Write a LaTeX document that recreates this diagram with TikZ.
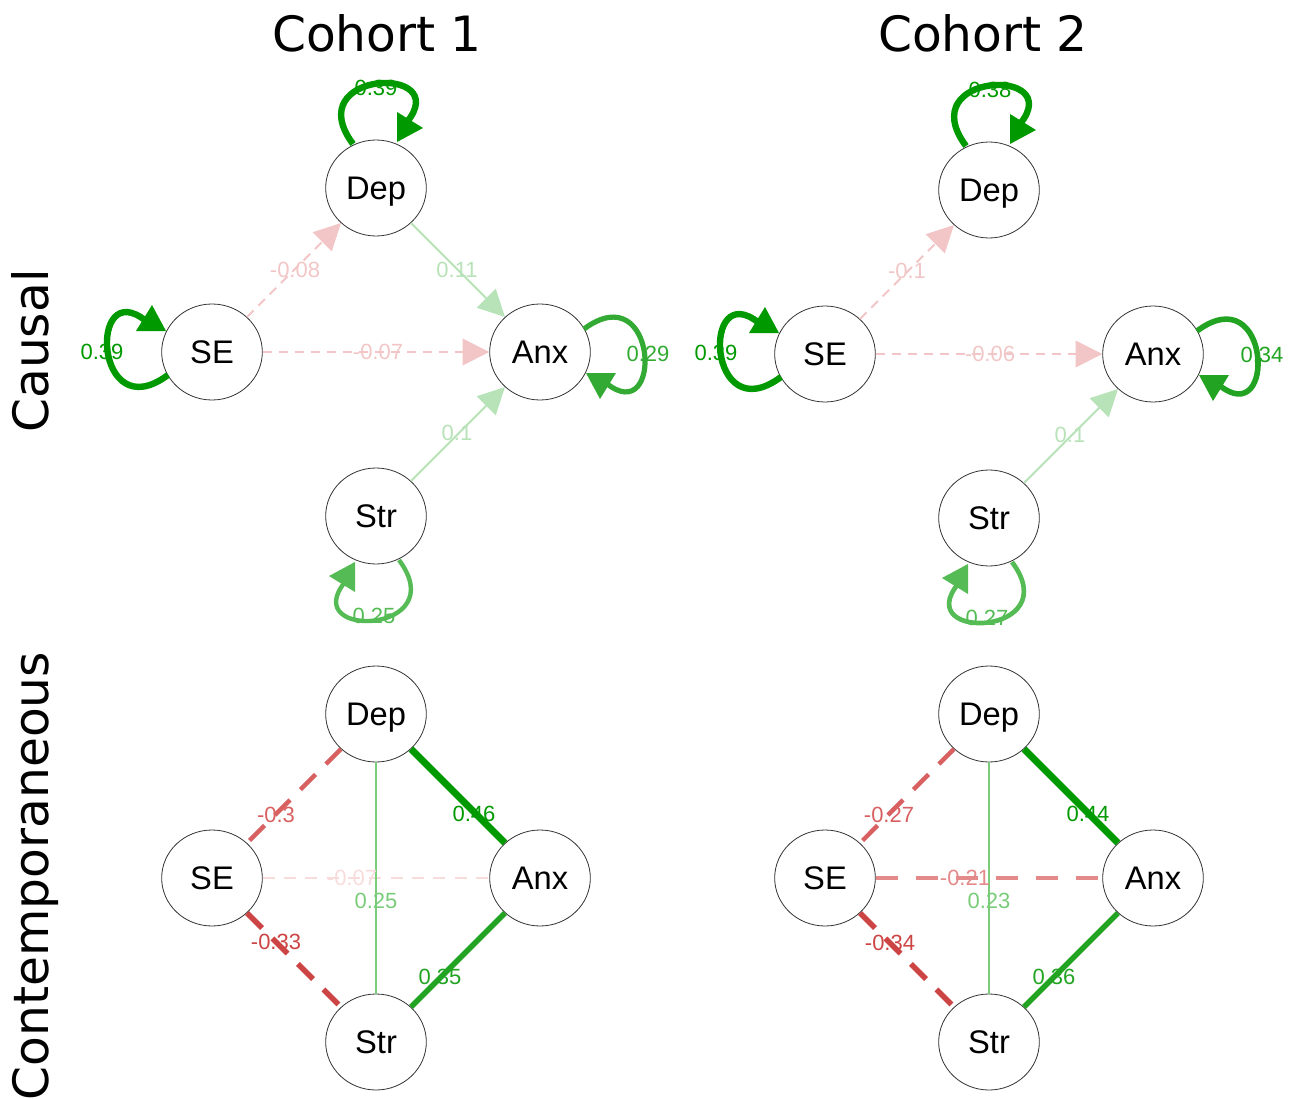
\documentclass[tikz,border=0pt]{standalone}
\usepackage{fontspec}
\setmainfont{Liberation Sans}
\newfontfamily\titlefont{DejaVu Sans}
\usetikzlibrary{arrows.meta,shapes.geometric}
\definecolor{gA}{HTML}{009900}
\definecolor{gB}{HTML}{22A322}
\definecolor{gC}{HTML}{33AA33}
\definecolor{gD}{HTML}{55BB55}
\definecolor{gE}{HTML}{7ACC7A}
\definecolor{gF}{HTML}{B8E2B8}
\definecolor{rA}{HTML}{CC4444}
\definecolor{rB}{HTML}{D86060}
\definecolor{rC}{HTML}{E48A8A}
\definecolor{rD}{HTML}{F2C6C6}
\definecolor{rE}{HTML}{F8DCDC}
\newcommand\qloop[4]{%
  \begin{scope}[shift={(#1)},rotate=#2]
    \draw[draw=#3,line width=#4] (-23,-44) .. controls (-78,-118) and (78,-124) .. (31,-66);
    \fill[#3] (21,-76) -- (21,-46) -- (47,-60) -- cycle;
  \end{scope}}
\begin{document}
\begin{tikzpicture}[x=0.75pt,y=-0.75pt,
  nd/.style={ellipse,draw=black!80,line width=0.6pt,fill=white,minimum width=75.5pt,minimum height=72pt,inner sep=0pt,font=\fontsize{24.5}{28}\selectfont,text height=17.5pt,text depth=0pt},
  lab/.style={font=\fontsize{16.5}{18}\selectfont,inner sep=0pt},
  hdr/.style={font=\titlefont\fontsize{36.5}{40}\selectfont,anchor=base,inner sep=0pt},
  arr/.style={-{Triangle[length=20pt,width=20pt]}},
  cdash/.style={line width=1.4pt,dash pattern=on 7pt off 5pt},
  csol/.style={line width=1.4pt}]
\useasboundingbox (0,0) rectangle (1293,1099);

% headers
\node[hdr] (h1) at (377,52) {Cohort 1};
\node[hdr] (h2) at (983,52) {Cohort 2};
\node[hdr,rotate=90] (r1) at (48,351) {Causal};
\node[hdr,rotate=90] (r2) at (48,876) {Contemporaneous};

% nodes
\node[nd] (D1) at (376,188) {Dep};
\node[nd] (S1) at (212,352) {SE};
\node[nd] (A1) at (540,352) {Anx};
\node[nd] (T1) at (376,516) {Str};
\node[nd] (D2) at (989,190) {Dep};
\node[nd] (S2) at (825,354) {SE};
\node[nd] (A2) at (1153,354) {Anx};
\node[nd] (T2) at (989,518) {Str};
\node[nd] (D3) at (376,714) {Dep};
\node[nd] (S3) at (212,878) {SE};
\node[nd] (A3) at (540,878) {Anx};
\node[nd] (T3) at (376,1042) {Str};
\node[nd] (D4) at (989,714) {Dep};
\node[nd] (S4) at (825,878) {SE};
\node[nd] (A4) at (1153,878) {Anx};
\node[nd] (T4) at (989,1042) {Str};

% causal cohort 1
\draw[arr,cdash,rD] (S1) -- (D1);
\draw[arr,cdash,rD] (S1) -- (A1);
\draw[arr,csol,gF] (D1) -- (A1);
\draw[arr,csol,gF] (T1) -- (A1);
\qloop{D1}{0}{gA}{4.8pt}
\qloop{S1}{90}{gA}{4.8pt}
\qloop{A1}{-90}{gC}{3.9pt}
\qloop{T1}{180}{gD}{3.3pt}
\node[lab,text=rD] (l1a) at (295,270) {-0.08};
\node[lab,text=rD] (l1b) at (378,352) {-0.07};
\node[lab,text=gF] (l1c) at (457,270) {0.11};
\node[lab,text=gF] (l1d) at (457,433) {0.1};
\node[lab,text=gA] (l1e) at (376,88) {0.39};
\node[lab,text=gA] (l1f) at (102,352) {0.39};
\node[lab,text=gC] (l1g) at (648,354) {0.29};
\node[lab,text=gD] (l1h) at (374,616) {0.25};

% causal cohort 2
\draw[arr,cdash,rD] (S2) -- (D2);
\draw[arr,cdash,rD] (S2) -- (A2);
\draw[arr,csol,gF] (T2) -- (A2);
\qloop{D2}{0}{gA}{4.8pt}
\qloop{S2}{90}{gA}{4.8pt}
\qloop{A2}{-90}{gB}{4.2pt}
\qloop{T2}{180}{gD}{3.5pt}
\node[lab,text=rD] (l2a) at (907,271) {-0.1};
\node[lab,text=rD] (l2b) at (990,354) {-0.06};
\node[lab,text=gF] (l2d) at (1070,435) {0.1};
\node[lab,text=gA] (l2e) at (990,90) {0.38};
\node[lab,text=gA] (l2f) at (716,353) {0.39};
\node[lab,text=gB] (l2g) at (1262,355) {0.34};
\node[lab,text=gD] (l2h) at (987,618) {0.27};

% contemporaneous cohort 1
\draw[rB,line width=3.2pt,dash pattern=on 16pt off 11pt] (D3) -- (S3);
\draw[rA,line width=4pt,dash pattern=on 16pt off 11pt] (S3) -- (T3);
\draw[rE,line width=1.2pt,dash pattern=on 9pt off 7pt] (S3) -- (A3);
\draw[gE,line width=2.2pt] (D3) -- (T3);
\draw[gA,line width=5.2pt] (D3) -- (A3);
\draw[gB,line width=4pt] (A3) -- (T3);
\node[lab,text=rB] (l3a) at (276,815) {-0.3};
\node[lab,text=rA] (l3b) at (276,942) {-0.33};
\node[lab,text=rE] (l3c) at (352,878) {-0.07};
\node[lab,text=gE] (l3d) at (376,901) {0.25};
\node[lab,text=gA] (l3e) at (474,814) {0.46};
\node[lab,text=gB] (l3f) at (440,977) {0.35};

% contemporaneous cohort 2
\draw[rB,line width=3.2pt,dash pattern=on 16pt off 11pt] (D4) -- (S4);
\draw[rA,line width=4pt,dash pattern=on 16pt off 11pt] (S4) -- (T4);
\draw[rC,line width=2.4pt,dash pattern=on 17pt off 13pt] (S4) -- (A4);
\draw[gE,line width=2.2pt] (D4) -- (T4);
\draw[gA,line width=5.2pt] (D4) -- (A4);
\draw[gB,line width=4pt] (A4) -- (T4);
\node[lab,text=rB] (l4a) at (889,815) {-0.27};
\node[lab,text=rA] (l4b) at (890,943) {-0.34};
\node[lab,text=rC] (l4c) at (965,878) {-0.21};
\node[lab,text=gE] (l4d) at (989,901) {0.23};
\node[lab,text=gA] (l4e) at (1088,814) {0.44};
\node[lab,text=gB] (l4f) at (1054,977) {0.36};
\end{tikzpicture}
\end{document}
